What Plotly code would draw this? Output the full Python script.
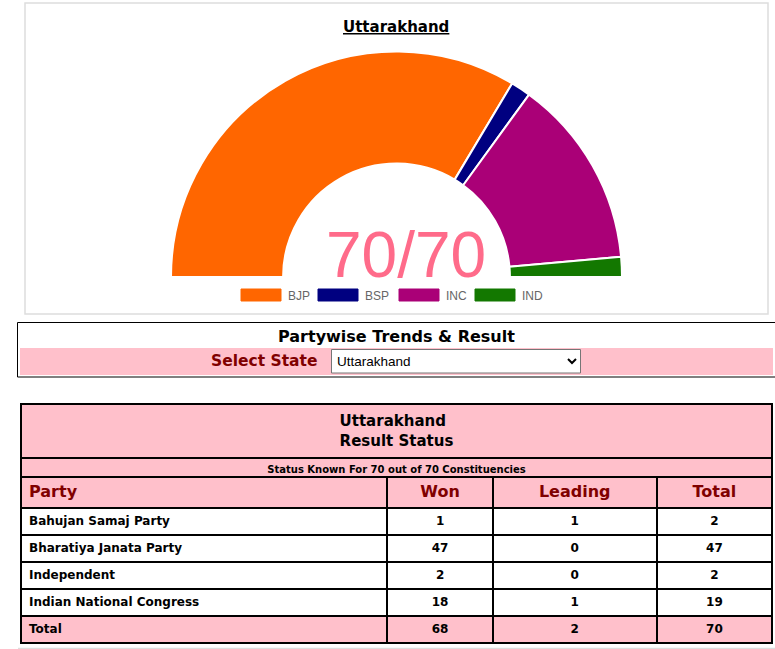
import plotly.graph_objects as go

W, H = 775, 649

# ---------------- data ----------------
chart_labels = ["BJP", "BSP", "INC", "IND"]
chart_seats = [47, 2, 19, 2]
chart_colors = ["#FF6600", "#000080", "#AA0077", "#137800"]
seats_total = 70

parties = ["Bahujan Samaj Party", "Bharatiya Janata Party", "Independent", "Indian National Congress"]
won = [1, 47, 2, 18]
leading = [1, 0, 0, 1]
total = [2, 47, 2, 19]
total_row = ["Total", 68, 2, 70]
table_headers = ["Party", "Won", "Leading", "Total"]
state = "Uttarakhand"

PINK = "#FFC0CB"
MAROON = "#800000"
VERD = "DejaVu Sans"
ARIAL = "Liberation Sans, Arial"
NB = "\u00a0"


def px(x):
    return x / W


def py(y):
    return 1 - y / H


def nb(s):
    return str(s).replace(" ", NB)


fig = go.Figure()

# ---------------- half donut ----------------
cx, cy, R = 396.5, 277.0, 225.5
fig.add_trace(go.Pie(
    labels=chart_labels + ["_hidden"],
    values=chart_seats + [sum(chart_seats)],
    marker=dict(colors=chart_colors + ["rgba(0,0,0,0)"],
                line=dict(color=["#FFFFFF"] * 4 + ["rgba(0,0,0,0)"], width=[2] * 4 + [0])),
    hole=0.503,
    sort=False,
    direction="clockwise",
    rotation=-90,
    textinfo="none",
    hoverinfo="skip",
    showlegend=False,
    domain=dict(x=[px(cx - R), px(cx + R)], y=[py(cy + R), py(cy - R)]),
))

shapes = []
annotations = []

# container border of chart
shapes.append(dict(type="rect", xref="paper", yref="paper", x0=px(25), x1=px(768), y0=py(314), y1=py(3),
                   line=dict(color="#DDDDDD", width=1.5), layer="below"))

# title
annotations.append(dict(x=px(396), y=py(27), xref="paper", yref="paper", text=f"<b><u>{state}</u></b>",
                        showarrow=False, font=dict(family=VERD, size=15, color="#000000"),
                        xanchor="center", yanchor="middle"))

# centre text
annotations.append(dict(x=px(405.5), y=py(255), xref="paper", yref="paper",
                        text=f"{sum(chart_seats)}/{seats_total}", showarrow=False,
                        font=dict(family=ARIAL, size=64, color="#FF6B8A"),
                        xanchor="center", yanchor="middle", height=60))

# custom legend
legend_x = [241, 318, 399, 475]
for lab, col, lx in zip(chart_labels, chart_colors, legend_x):
    shapes.append(dict(type="rect", xref="paper", yref="paper", x0=px(lx), x1=px(lx + 40), y0=py(301), y1=py(289),
                       fillcolor=col, line=dict(color=col, width=1)))
    annotations.append(dict(x=px(lx + 45), y=py(295.5), xref="paper", yref="paper", text=lab, showarrow=False,
                            font=dict(family=ARIAL, size=12, color="#666666"), xanchor="left", yanchor="middle"))

# ---------------- Partywise trends panel ----------------
shapes.append(dict(type="rect", xref="paper", yref="paper", x0=px(17.5), x1=px(780), y0=py(377), y1=py(322.5),
                   line=dict(color="#000000", width=1)))
shapes.append(dict(type="rect", xref="paper", yref="paper", x0=px(20), x1=px(773), y0=py(375), y1=py(348),
                   fillcolor=PINK, line=dict(width=0)))
annotations.append(dict(x=px(397), y=py(336), xref="paper", yref="paper", text="<b>Partywise Trends & Result</b>",
                        showarrow=False, font=dict(family=VERD, size=16, color="#000000"),
                        xanchor="center", yanchor="middle"))
annotations.append(dict(x=px(319), y=py(361), xref="paper", yref="paper", text="<b>Select State</b>",
                        showarrow=False, font=dict(family=VERD, size=15.5, color=MAROON),
                        xanchor="right", yanchor="middle"))
shapes.append(dict(type="rect", xref="paper", yref="paper", x0=px(331.5), x1=px(580.5), y0=py(373), y1=py(349.5),
                   fillcolor="#FFFFFF", line=dict(color="#767676", width=1)))
annotations.append(dict(x=px(335), y=py(361), xref="paper", yref="paper", text=state,
                        showarrow=False, font=dict(family=ARIAL, size=13.5, color="#000000"),
                        xanchor="left", yanchor="middle"))
shapes.append(dict(type="path", xref="paper", yref="paper",
                   path=f"M{px(568)},{py(359)} L{px(572)},{py(363)} L{px(576)},{py(359)}",
                   line=dict(color="#000000", width=2)))

# ---------------- result table ----------------
tx0, tx1 = 21, 772
fig.add_trace(go.Table(
    domain=dict(x=[px(tx0), px(tx1)], y=[py(485), py(404)]),
    columnwidth=[1],
    header=dict(values=[f"<b>{state}<br>Result{NB}Status</b>"], height=50,
                fill_color=PINK, line=dict(color="#000000", width=2), align="center",
                font=dict(family=VERD, size=15, color="#000000")),
    cells=dict(values=[[nb(f"Status Known For {seats_total} out of {seats_total} Constituencies")]],
               height=23, fill_color=PINK, line=dict(color="#000000", width=2), align="center",
               font=dict(family=VERD, size=10, color="#000000", weight="bold")),
))

fill_rows = ["#FFFFFF"] * len(parties) + [PINK]
col_party = [nb(p) for p in parties] + [total_row[0]]
col_won = [str(v) for v in won] + [str(total_row[1])]
col_lead = [str(v) for v in leading] + [str(total_row[2])]
col_tot = [str(v) for v in total] + [str(total_row[3])]

fig.add_trace(go.Table(
    domain=dict(x=[px(tx0), px(tx1)], y=[py(649), py(477)]),
    columnwidth=[366, 105, 164, 115],
    header=dict(values=table_headers, height=31,
                fill_color=PINK, line=dict(color="#000000", width=2),
                align=["left", "center", "center", "center"],
                font=dict(family=VERD, size=16, color=MAROON, weight="bold")),
    cells=dict(values=[col_party, col_won, col_lead, col_tot], height=27,
               fill_color=[fill_rows] * 4, line=dict(color="#000000", width=2),
               align=["left", "center", "center", "center"],
               font=dict(family=VERD, size=12, color="#000000", weight="bold")),
))

shapes.append(dict(type="line", xref="paper", yref="paper", x0=px(18), x1=px(775), y0=py(648.5), y1=py(648.5),
                   line=dict(color="#DDDDDD", width=1.5)))

fig.update_layout(width=W, height=H, margin=dict(l=0, r=0, t=0, b=0),
                  paper_bgcolor="#FFFFFF", plot_bgcolor="#FFFFFF",
                  shapes=shapes, annotations=annotations, showlegend=False)

fig.write_html("out.html")
